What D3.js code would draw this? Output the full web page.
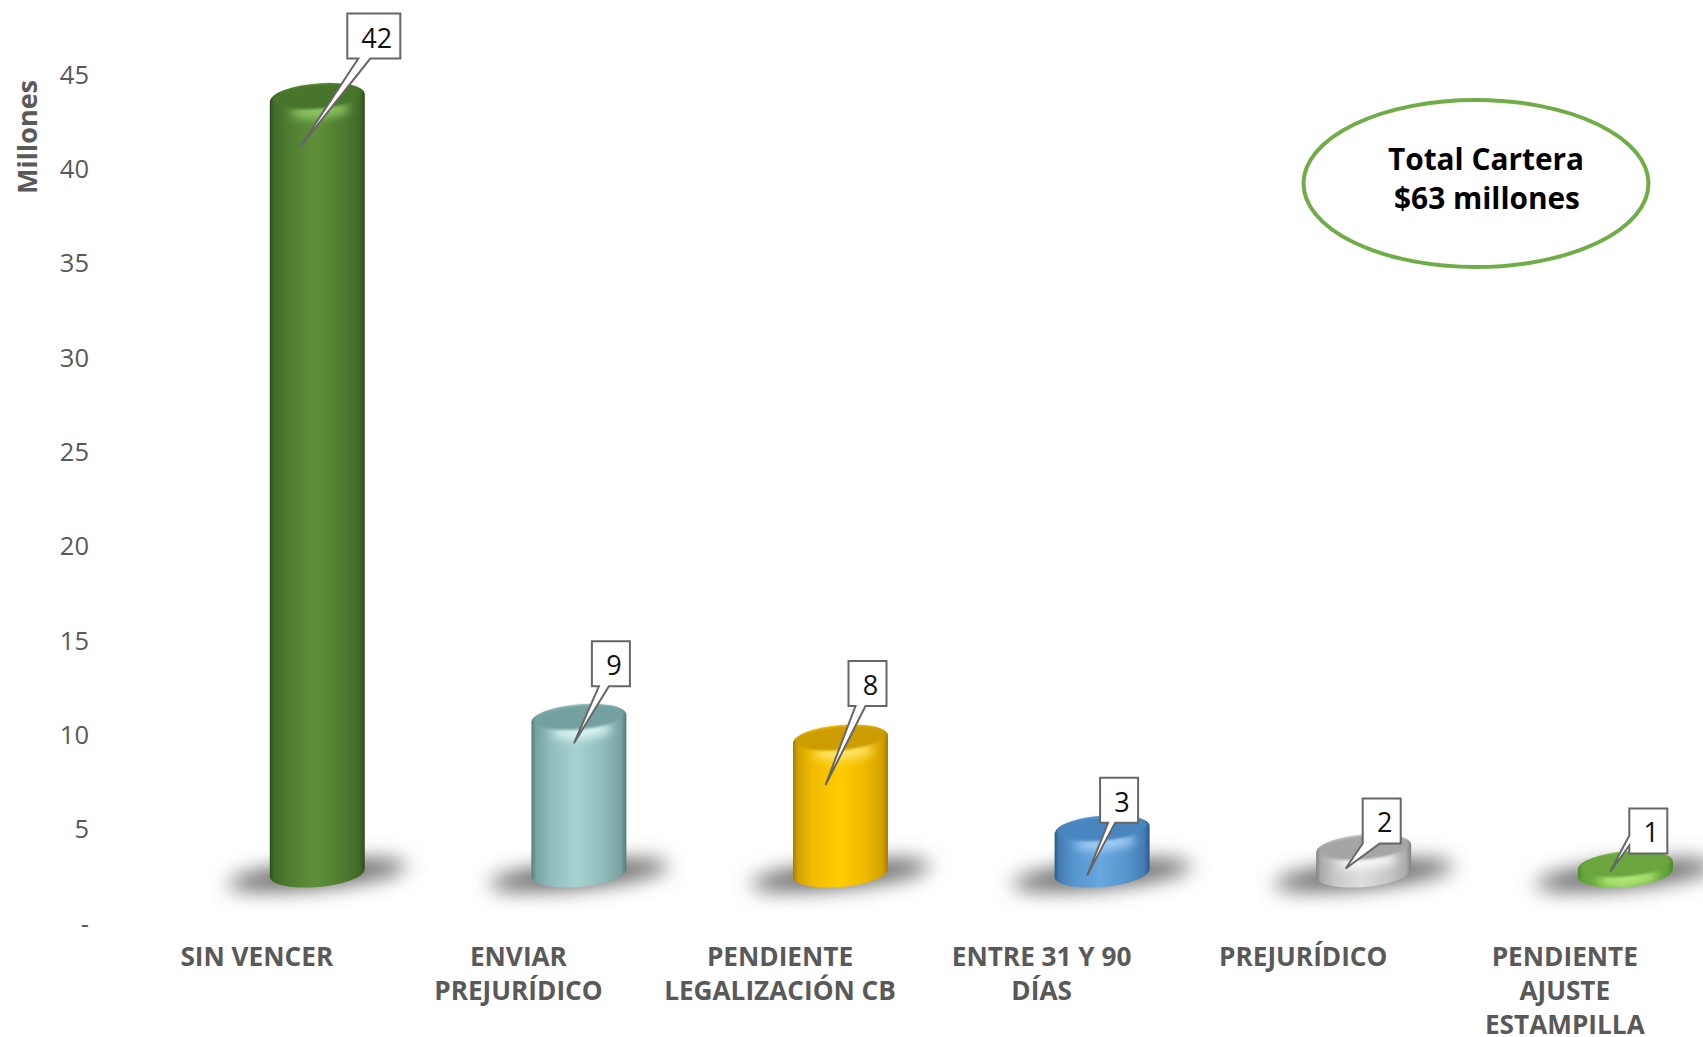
<!DOCTYPE html>
<html>
<head>
<meta charset="utf-8">
<script src="https://cdn.jsdelivr.net/npm/d3@7"></script>
<style>
  html, body { margin: 0; background: #fff; }
  svg { display: block; }
  text { font-family: "Open Sans", sans-serif; }
</style>
</head>
<body>
<script>
// values, in millions
let categories = ["SIN VENCER", "ENVIAR PREJURÍDICO", "PENDIENTE LEGALIZACIÓN CB", "ENTRE 31 Y 90 DÍAS", "PREJURÍDICO", "PENDIENTE AJUSTE ESTAMPILLA"];
let categoryLines = [["SIN VENCER"], ["ENVIAR", "PREJURÍDICO"], ["PENDIENTE", "LEGALIZACIÓN CB"], ["ENTRE 31 Y 90", "DÍAS"], ["PREJURÍDICO"], ["PENDIENTE", "AJUSTE", "ESTAMPILLA"]];
let values = [42, 9.1, 8, 3.2, 2.2, 1.3];
let yTicks = [0, 5, 10, 15, 20, 25, 30, 35, 40, 45];

let barColors = [
    { edge: "#2f4f1b", mid: "#4f7c31", light: "#5f9039", top: "#4a742c", glow: "#8fca68" },
    { edge: "#587b7b", mid: "#90bcbc", light: "#a6d2cf", top: "#75a0a0", glow: "#dcf7f3" },
    { edge: "#a67c00", mid: "#f0bb00", light: "#ffcc00", top: "#cc9c00", glow: "#ffe670" },
    { edge: "#2b5a88", mid: "#5795cf", light: "#68a6df", top: "#4a86bf", glow: "#a5d0f5" },
    { edge: "#828282", mid: "#c8c8c8", light: "#dedede", top: "#a5a5a5", glow: "#f8f8f8" },
    { edge: "#4e8a2a", mid: "#70b03f", light: "#84c84e", top: "#6aa53c", glow: "#b4ea7a" }
];

// callout placement relative to each bar: box corner, pointer tip, pointer base
let callouts = [
    { boxDx: 30, boxDy: -118, tipDx: -17, tipDy: 15, baseA: 11, baseB: 23, side: "bottom" },
    { boxDx: 13, boxDy: -111, tipDx: -5, tipDy: -9, baseA: 7, baseB: 17, side: "bottom" },
    { boxDx: 8, boxDy: -112, tipDx: -15, tipDy: 12, baseA: 7, baseB: 17, side: "bottom" },
    { boxDx: -2, boxDy: -86, tipDx: -15, tipDy: 12, baseA: 8, baseB: 15, side: "bottom" },
    { boxDx: -1, boxDy: -84, tipDx: -18, tipDy: -14, baseA: 0, baseB: 17, side: "bottom" },
    { boxDx: 4, boxDy: -91, tipDx: -15, tipDy: -28, baseA: 27, baseB: 37, side: "left" }
];

let svgWidth = 1703;
let svgHeight = 1037;

let barWidth = 95;
let rimRy = 14;         // half height of the tilted ellipse at top and bottom
let tilt = -5;
let rimDrop = -3.5;     // the ellipse's widest points sit this far off its center
let floorY = 873;       // center of the bottom ellipse
let topLift = 34;       // center of the top ellipse sits this far above the value
let barShift = 60.5;    // 3d view pushes the bars right of the category label

let xScale = d3.scaleBand()
    .domain(categories)
    .range([126, 1695.6]);

let yScale = d3.scaleLinear()
    .domain([0, 45])
    .range([924, 75]);

let svg = d3.select("body")
    .append("svg")
    .attr("width", svgWidth)
    .attr("height", svgHeight);

let defs = svg.append("defs");

defs.append("filter").attr("id", "shadowBlur")
    .attr("x", "-30%").attr("y", "-100%").attr("width", "160%").attr("height", "300%")
    .append("feGaussianBlur").attr("stdDeviation", 10);
defs.append("filter").attr("id", "glowBlur")
    .attr("x", "-40%").attr("y", "-150%").attr("width", "180%").attr("height", "400%")
    .append("feGaussianBlur").attr("stdDeviation", 5);
defs.append("filter").attr("id", "edgeBlur")
    .attr("x", "-10%").attr("y", "-30%").attr("width", "120%").attr("height", "160%")
    .append("feGaussianBlur").attr("stdDeviation", 1.2);

barColors.forEach(function (c, i) {
    let grad = defs.append("linearGradient").attr("id", "body" + i);
    let near = d3.interpolateRgb(c.edge, c.mid)(0.6);
    [[0, c.edge], [0.05, near], [0.2, c.mid], [0.48, c.light], [0.75, c.mid], [0.94, near], [1, c.edge]].forEach(function (s) {
        grad.append("stop").attr("offset", s[0]).attr("stop-color", s[1]);
    });
});

function barCenter(d) {
    return xScale(d) + xScale.bandwidth() / 2 + barShift;
}

function bodyPath(cx, topY) {
    let l = cx - barWidth / 2, r = cx + barWidth / 2;
    return "M" + l + "," + (topY - rimDrop)
        + "L" + l + "," + (floorY - rimDrop)
        + "A" + barWidth / 2 + "," + rimRy + " " + tilt + " 0 0 " + r + "," + (floorY + rimDrop)
        + "L" + r + "," + (topY + rimDrop)
        + "A" + barWidth / 2 + "," + rimRy + " " + tilt + " 0 0 " + l + "," + (topY - rimDrop) + "Z";
}

// shadows first so every bar sits on top
svg.append("g").selectAll("ellipse")
    .data(categories)
    .enter()
    .append("ellipse")
    .attr("rx", 90)
    .attr("ry", 13)
    .attr("transform", function (d) { return "translate(" + barCenter(d) + ",875) rotate(-6)" })
    .attr("fill", "#666")
    .attr("filter", "url(#shadowBlur)");

let bars = svg.append("g").selectAll("g")
    .data(categories)
    .enter()
    .append("g");

// clip each glow to its own bar
bars.append("clipPath")
    .attr("id", function (d, i) { return "barClip" + i })
    .append("path")
    .attr("d", function (d, i) { return bodyPath(barCenter(d), yScale(values[i]) - topLift) });

bars.append("path")
    .attr("d", function (d, i) { return bodyPath(barCenter(d), yScale(values[i]) - topLift) })
    .attr("fill", function (d, i) { return "url(#body" + i + ")" });

// soft light under the front of the rim
bars.append("g")
    .attr("clip-path", function (d, i) { return "url(#barClip" + i + ")" })
    .append("ellipse")
    .attr("rx", 30)
    .attr("ry", 7)
    .attr("transform", function (d, i) { return "translate(" + (barCenter(d) + 3) + "," + (yScale(values[i]) - topLift + rimRy - 1) + ") rotate(" + tilt + ")" })
    .attr("fill", function (d, i) { return barColors[i].glow })
    .attr("filter", "url(#glowBlur)");

bars.append("ellipse")
    .attr("rx", barWidth / 2 - 3)
    .attr("ry", rimRy - 2)
    .attr("transform", function (d, i) { return "translate(" + barCenter(d) + "," + (yScale(values[i]) - topLift - 1) + ") rotate(" + tilt + ")" })
    .attr("fill", function (d, i) { return barColors[i].top })
    .attr("filter", "url(#edgeBlur)");

// y axis
let yAxis = d3.axisLeft(yScale)
    .tickValues(yTicks)
    .tickSize(0)
    .tickPadding(0)
    .tickFormat(function (d) { return d === 0 ? "-" : d });

let yAxisG = svg.append("g")
    .attr("transform", "translate(89,0)")
    .call(yAxis);
yAxisG.select(".domain").remove();
yAxisG.selectAll("text")
    .attr("font-family", "Open Sans")
    .attr("font-size", 25.5)
    .attr("fill", "#595959");

svg.append("text")
    .attr("transform", "translate(26,137) rotate(-90)")
    .attr("text-anchor", "middle")
    .attr("dominant-baseline", "central")
    .attr("font-size", 27)
    .attr("font-weight", 700)
    .attr("fill", "#595959")
    .text("Millones");

// category labels, kept as d3 axis ticks with the lines put in by hand
let xAxis = d3.axisBottom(xScale).tickSize(0).tickFormat("");
let xAxisG = svg.append("g")
    .attr("transform", "translate(0,923)")
    .call(xAxis);
xAxisG.select(".domain").remove();
xAxisG.selectAll(".tick text").remove();
xAxisG.selectAll(".tick")
    .append("text")
    .attr("text-anchor", "middle")
    .attr("font-size", 26.2)
    .attr("font-weight", 700)
    .attr("fill", "#595959")
    .selectAll("tspan")
    .data(function (d, i) { return categoryLines[i] })
    .enter()
    .append("tspan")
    .attr("x", 0)
    .attr("y", function (d, i) { return 43 + i * 34 })
    .text(function (d) { return d });

// value callouts
function boxWidth(i) {
    return d3.format(".0f")(values[i]).length > 1 ? 53 : 38;
}

function calloutPath(d, i) {
    let c = callouts[i];
    let w = boxWidth(i);
    let h = 45;
    let l = barCenter(d) + c.boxDx, t = yScale(values[i]) + c.boxDy;
    let tipX = barCenter(d) + c.tipDx, tipY = yScale(values[i]) + c.tipDy;
    let p = "M" + l + "," + t + "H" + (l + w) + "V" + (t + h);
    if (c.side === "bottom") {
        p += "H" + (l + c.baseB) + "L" + tipX + "," + tipY + "L" + (l + c.baseA) + "," + (t + h) + "H" + l + "Z";
    } else {
        p += "H" + l + "V" + (t + c.baseB) + "L" + tipX + "," + tipY + "L" + l + "," + (t + c.baseA) + "Z";
    }
    return p;
}

let labels = svg.append("g").selectAll("g")
    .data(categories)
    .enter()
    .append("g");

labels.append("path")
    .attr("d", calloutPath)
    .attr("fill", "#fff")
    .attr("stroke", "#666")
    .attr("stroke-width", 2);

labels.append("text")
    .attr("x", function (d, i) { return barCenter(d) + callouts[i].boxDx + boxWidth(i) / 2 + 3 })
    .attr("y", function (d, i) { return yScale(values[i]) + callouts[i].boxDy + 34 })
    .attr("text-anchor", "middle")
    .attr("font-size", 27)
    .attr("fill", "#111")
    .text(function (d, i) { return d3.format(".0f")(values[i]) });

// total note
svg.append("ellipse")
    .attr("cx", 1476)
    .attr("cy", 183.5)
    .attr("rx", 172.5)
    .attr("ry", 83.5)
    .attr("fill", "#fff")
    .attr("stroke", "#70ad47")
    .attr("stroke-width", 4);

svg.append("text")
    .attr("x", 1486)
    .attr("y", 170)
    .attr("text-anchor", "middle")
    .attr("font-size", 29.8)
    .attr("font-weight", 700)
    .attr("fill", "#000")
    .text("Total Cartera");

svg.append("text")
    .attr("x", 1487)
    .attr("y", 209)
    .attr("text-anchor", "middle")
    .attr("font-size", 29.8)
    .attr("font-weight", 700)
    .attr("fill", "#000")
    .text("$63 millones");
</script>
</body>
</html>
